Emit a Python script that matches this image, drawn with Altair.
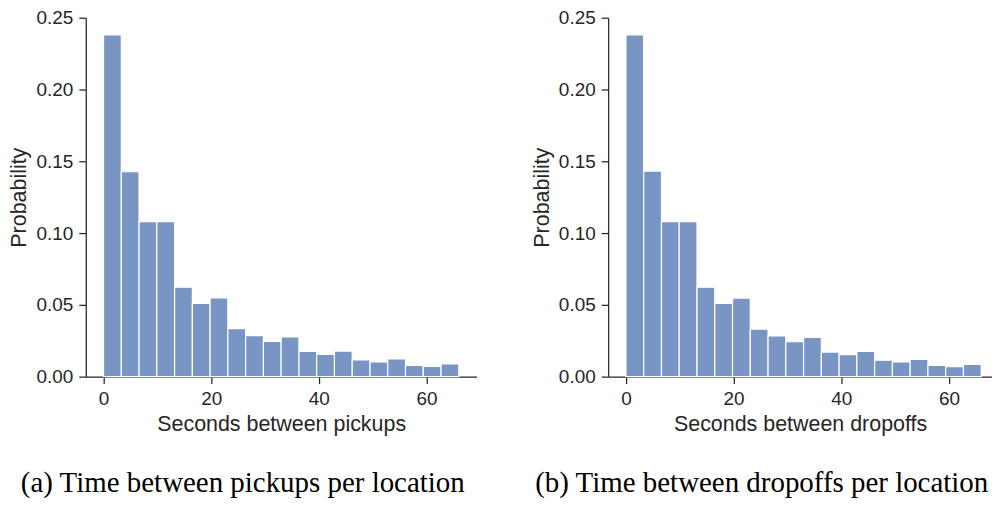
import altair as alt
import pandas as pd

# Histogram bin edges (seconds)
bin_starts = [0.0, 3.3, 6.6, 9.9, 13.2, 16.5, 19.8, 23.1, 26.4, 29.7,
              33.0, 36.3, 39.6, 42.9, 46.2, 49.5, 52.8, 56.1, 59.4, 62.7]
bin_ends = [3.3, 6.6, 9.9, 13.2, 16.5, 19.8, 23.1, 26.4, 29.7, 33.0,
            36.3, 39.6, 42.9, 46.2, 49.5, 52.8, 56.1, 59.4, 62.7, 66.0]

# Probabilities
pickup_prob = [0.238, 0.1427, 0.108, 0.108, 0.0623, 0.051, 0.0549, 0.0334, 0.0285, 0.0246,
               0.0276, 0.0176, 0.0155, 0.0178, 0.0116, 0.0102, 0.0123, 0.0079, 0.0072, 0.0088]
dropoff_prob = [0.238, 0.1432, 0.108, 0.108, 0.0623, 0.051, 0.0547, 0.0331, 0.0283, 0.0243,
                0.0273, 0.0171, 0.0153, 0.0176, 0.0114, 0.0102, 0.0120, 0.0079, 0.0070, 0.0086]

x_ticks = [0, 20, 40, 60]
y_ticks = [0.0, 0.05, 0.10, 0.15, 0.20, 0.25]

BAR = "#7995c4"
INK = "#262626"


def panel(values, xtitle, caption, width, xmax):
    df = pd.DataFrame({"start": bin_starts, "end": bin_ends, "p": values})
    return (
        alt.Chart(
            df,
            title=alt.TitleParams(
                caption,
                orient="bottom",
                anchor="middle",
                frame="bounds",
                font="Liberation Serif",
                fontSize=29,
                fontWeight="normal",
                color="black",
                offset=34,
            ),
        )
        .mark_rect(color=BAR, stroke="white", strokeWidth=1.2, opacity=1)
        .encode(
            x=alt.X(
                "start:Q",
                scale=alt.Scale(domain=[-3.3, xmax], nice=False, zero=False),
                axis=alt.Axis(values=x_ticks, title=xtitle, format="d"),
            ),
            x2="end:Q",
            y=alt.Y(
                "p:Q",
                scale=alt.Scale(domain=[0, 0.25], nice=False),
                axis=alt.Axis(values=y_ticks, title="Probability", format=".2f"),
            ),
            y2=alt.datum(0),
        )
        .properties(width=width, height=360)
    )


left = panel(pickup_prob, "Seconds between pickups",
             "(a) Time between pickups per location", 392, 69.3)
right = panel(dropoff_prob, "Seconds between dropoffs",
              "(b) Time between dropoffs per location", 385, 68.0)

chart = (
    alt.hconcat(left, right, spacing=55)
    .properties(padding={"left": 1, "top": 0, "right": 0, "bottom": 0})
    .configure_view(stroke=None)
    .configure_axis(
        grid=False,
        domainColor=INK,
        domainWidth=1.25,
        tickColor=INK,
        tickWidth=1.25,
        tickSize=7,
        labelFont="Liberation Sans",
        labelFontSize=19,
        labelColor=INK,
        labelPadding=6,
        titleFont="Liberation Sans",
        titleFontSize=21.5,
        titleFontWeight="normal",
        titleColor=INK,
        titlePadding=5,
    )
)

chart.save("out.html", embed_options={"renderer": "svg", "actions": False})
